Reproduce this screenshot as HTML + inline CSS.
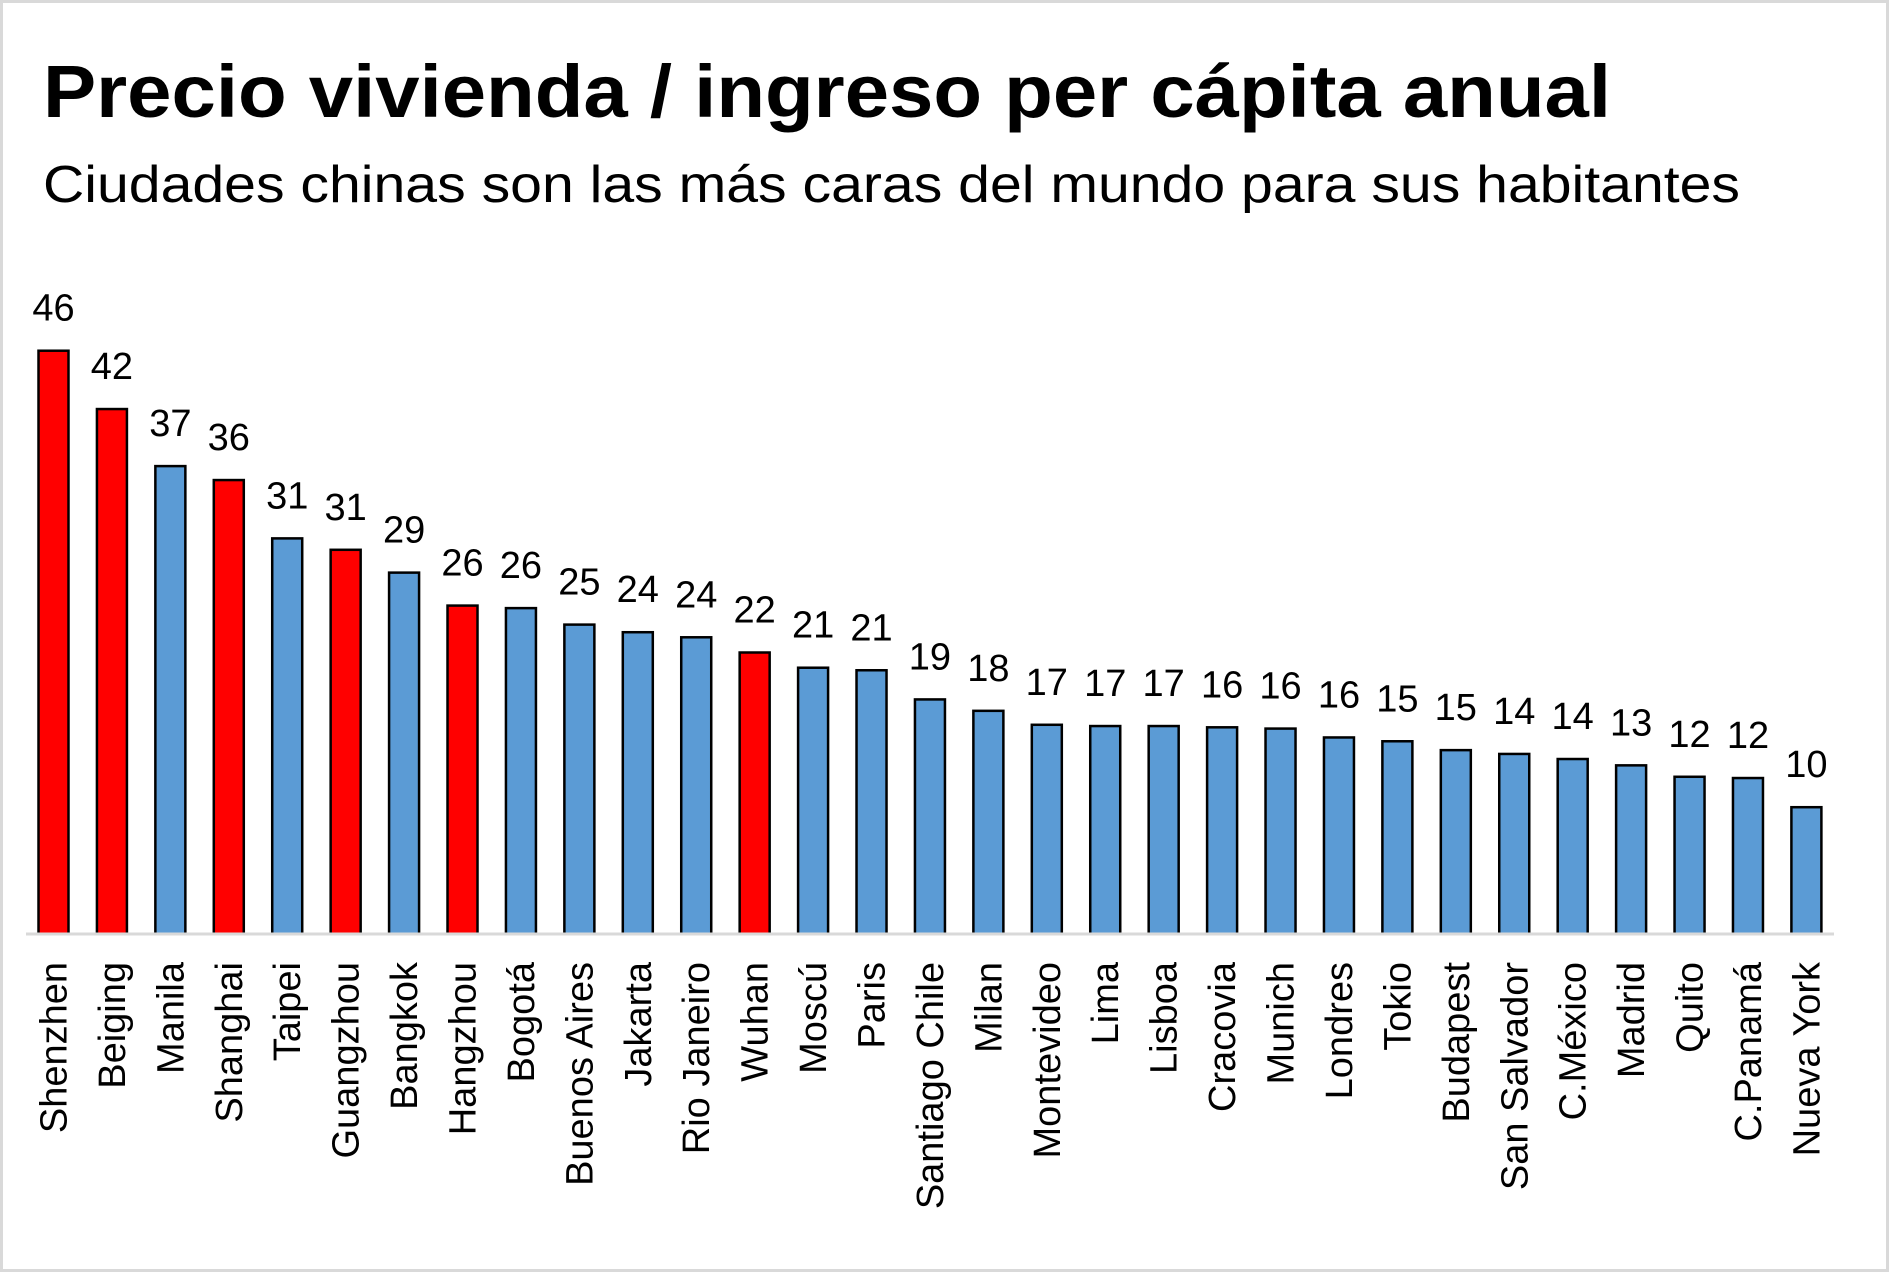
<!DOCTYPE html>
<html><head><meta charset="utf-8"><style>
html,body{margin:0;padding:0;background:#fff;}
svg{display:block;font-family:"Liberation Sans",sans-serif;}
</style></head><body>
<svg id="chart" width="1889" height="1272" viewBox="0 0 1889 1272">
<rect x="1.5" y="1.5" width="1886" height="1269" fill="#fff" stroke="#d9d9d9" stroke-width="3"/>
<text x="43" y="117" font-size="74" font-weight="bold" textLength="1568" lengthAdjust="spacingAndGlyphs">Precio vivienda / ingreso per cápita anual</text>
<text x="43" y="202" font-size="52" textLength="1697" lengthAdjust="spacingAndGlyphs">Ciudades chinas son las más caras del mundo para sus habitantes</text>
<g id="bars"></g>
<line x1="26" y1="934" x2="1834" y2="934" stroke="#d9d9d9" stroke-width="3"/>
</svg>
<script>
const categories = ["Shenzhen","Beiging","Manila","Shanghai","Taipei","Guangzhou","Bangkok","Hangzhou","Bogotá","Buenos Aires","Jakarta","Rio Janeiro","Wuhan","Moscú","Paris","Santiago Chile","Milan","Montevideo","Lima","Lisboa","Cracovia","Munich","Londres","Tokio","Budapest","San Salvador","C.México","Madrid","Quito","C.Panamá","Nueva York"];
const values = [46.0,41.4,36.9,35.8,31.2,30.3,28.5,25.9,25.7,24.4,23.8,23.4,22.2,21.0,20.8,18.5,17.6,16.5,16.4,16.4,16.3,16.2,15.5,15.2,14.5,14.2,13.8,13.3,12.4,12.3,10.0];
const labels = ["46","42","37","36","31","31","29","26","26","25","24","24","22","21","21","19","18","17","17","17","16","16","16","15","15","14","14","13","12","12","10"];
const chinese = [true,true,false,true,false,true,false,true,false,false,false,false,true,false,false,false,false,false,false,false,false,false,false,false,false,false,false,false,false,false,false];

const NS = "http://www.w3.org/2000/svg";
const baseY = 934, pxPerUnit = 12.68, x0 = 38.5, pitch = 58.43, bw = 30;
function xScale(i){ return x0 + i*pitch; }
function yScale(v){ return baseY - v*pxPerUnit; }
const g = document.getElementById("bars");
categories.forEach((c,i)=>{
  const v = values[i];
  const x = xScale(i), y = yScale(v);
  const r = document.createElementNS(NS,"rect");
  r.setAttribute("x", x); r.setAttribute("y", y);
  r.setAttribute("width", bw); r.setAttribute("height", baseY - y);
  r.setAttribute("fill", chinese[i] ? "#ff0000" : "#5b9bd5");
  r.setAttribute("stroke", "#000"); r.setAttribute("stroke-width", "2.5");
  
  
  g.appendChild(r);
  const t = document.createElementNS(NS,"text");
  t.setAttribute("x", x + bw/2); t.setAttribute("y", y - 30);
  t.setAttribute("text-anchor","middle"); t.setAttribute("font-size","38");
  t.textContent = labels[i];
  
  
  g.appendChild(t);
  const l = document.createElementNS(NS,"text");
  const cx = x + bw/2 + 13, cy = 962;
  l.setAttribute("x", cx); l.setAttribute("y", cy);
  l.setAttribute("text-anchor","end"); l.setAttribute("font-size","38");
  l.setAttribute("transform", "rotate(-90 " + cx + " " + cy + ")");
  l.textContent = c;
  
  
  g.appendChild(l);
});
</script>
</body></html>
